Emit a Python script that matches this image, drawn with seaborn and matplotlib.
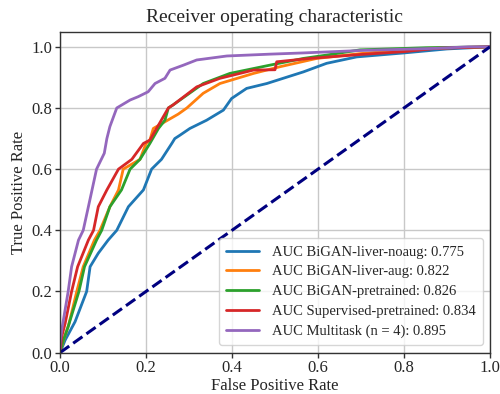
import pandas as pd
import matplotlib
matplotlib.use("Agg")
import matplotlib.pyplot as plt
import seaborn as sns

# ROC points
noaug_fpr = [0, 0.012, 0.035, 0.062, 0.070, 0.089, 0.112, 0.132, 0.159, 0.194, 0.213, 0.236, 0.260,
             0.267, 0.279, 0.302, 0.341, 0.38, 0.399, 0.434, 0.481, 0.519, 0.566, 0.62, 0.69, 0.80, 0.9, 1.0]
noaug_tpr = [0, 0.041, 0.101, 0.2, 0.281, 0.325, 0.368, 0.4, 0.477, 0.532, 0.6, 0.632, 0.684,
             0.70, 0.711, 0.733, 0.76, 0.793, 0.831, 0.864, 0.88, 0.897, 0.918, 0.946, 0.967, 0.98, 0.993, 1.0]

aug_fpr = [0, 0.008, 0.02, 0.039, 0.054, 0.080, 0.093, 0.116, 0.136, 0.147, 0.186, 0.2, 0.209, 0.217,
           0.275, 0.295, 0.333, 0.372, 0.45, 0.512, 0.597, 0.70, 0.85, 1.0]
aug_tpr = [0, 0.04, 0.09, 0.2, 0.281, 0.368, 0.4, 0.477, 0.532, 0.6, 0.632, 0.684, 0.695, 0.733,
           0.78, 0.8, 0.848, 0.88, 0.913, 0.935, 0.962, 0.978, 0.995, 1.0]

pre_fpr = [0, 0.008, 0.019, 0.044, 0.057, 0.085, 0.097, 0.116, 0.143, 0.163, 0.186, 0.209, 0.229, 0.244,
           0.252, 0.263, 0.333, 0.395, 0.488, 0.566, 0.62, 0.698, 0.85, 1.0]
pre_tpr = [0, 0.041, 0.085, 0.2, 0.281, 0.368, 0.4, 0.477, 0.532, 0.6, 0.632, 0.684, 0.733, 0.76,
           0.8, 0.81, 0.88, 0.913, 0.94, 0.962, 0.973, 0.99, 0.997, 1.0]

sup_fpr = [0, 0.004, 0.012, 0.027, 0.041, 0.066, 0.078, 0.089, 0.109, 0.136, 0.167, 0.194, 0.209, 0.252,
           0.263, 0.318, 0.372, 0.45, 0.50, 0.504, 0.581, 0.70, 0.798, 0.876, 1.0]
sup_tpr = [0, 0.052, 0.096, 0.2, 0.281, 0.368, 0.4, 0.477, 0.532, 0.6, 0.632, 0.684, 0.695, 0.8,
           0.81, 0.869, 0.897, 0.924, 0.925, 0.951, 0.962, 0.975, 0.984, 0.995, 1.0]

multi_fpr = [0, 0, 0.004, 0.019, 0.027, 0.043, 0.054, 0.066, 0.085, 0.103, 0.109, 0.116, 0.132, 0.163,
             0.182, 0.205, 0.221, 0.244, 0.256, 0.287, 0.318, 0.388, 0.488, 0.566, 0.70, 0.876, 0.95, 1.0]
multi_tpr = [0, 0.03, 0.074, 0.2, 0.281, 0.368, 0.4, 0.477, 0.6, 0.652, 0.70, 0.739, 0.8, 0.826,
             0.837, 0.853, 0.88, 0.897, 0.924, 0.94, 0.957, 0.97, 0.976, 0.98, 0.988, 0.995, 1.0, 1.0]

labels = ["AUC BiGAN-liver-noaug: 0.775", "AUC BiGAN-liver-aug: 0.822", "AUC BiGAN-pretrained: 0.826",
          "AUC Supervised-pretrained: 0.834", "AUC Multitask (n = 4): 0.895"]
curves = [(noaug_fpr, noaug_tpr), (aug_fpr, aug_tpr), (pre_fpr, pre_tpr),
          (sup_fpr, sup_tpr), (multi_fpr, multi_tpr)]

frames = []
for lab, (fpr, tpr) in zip(labels, curves):
    frames.append(pd.DataFrame({"fpr": fpr, "tpr": tpr, "model": lab}))
df = pd.concat(frames, ignore_index=True)

sns.set_theme(style="whitegrid", rc={"axes.edgecolor": "#333333", "axes.linewidth": 1.0,
                                     "xtick.bottom": True, "ytick.left": True,
                                     "grid.color": "#c8c8c8"})
plt.rcParams['font.family'] = ['Liberation Serif', 'DejaVu Serif']

fig = plt.figure(figsize=(5, 3.94), dpi=100)
ax = fig.add_axes([0.12, 0.105, 0.86, 0.815])

palette = sns.color_palette("tab10")
for i, lab in enumerate(labels):
    sub = df[df["model"] == lab]
    sns.lineplot(data=sub, x="fpr", y="tpr", estimator=None, sort=False,
                 color=palette[i], linewidth=2, label=lab, ax=ax)

ax.plot([0, 1], [0, 1], color="navy", lw=2.2, linestyle="--")
ax.set_xlim(0, 1)
ax.set_ylim(0, 1.05)
ax.set_xticks([0, 0.2, 0.4, 0.6, 0.8, 1.0])
ax.set_yticks([0, 0.2, 0.4, 0.6, 0.8, 1.0])
ax.tick_params(labelsize=12, length=3.5, width=1, color="#333333", pad=2)
ax.set_xlabel("False Positive Rate", fontsize=12, labelpad=1)
ax.set_ylabel("True Positive Rate", fontsize=12, labelpad=3)
ax.set_title("Receiver operating characteristic", fontsize=14, pad=7)
ax.legend(loc="lower right", fontsize=10.5, handlelength=2.2, borderpad=0.5,
          labelspacing=0.45, handletextpad=0.9)

fig.savefig("out.png", dpi=100)
